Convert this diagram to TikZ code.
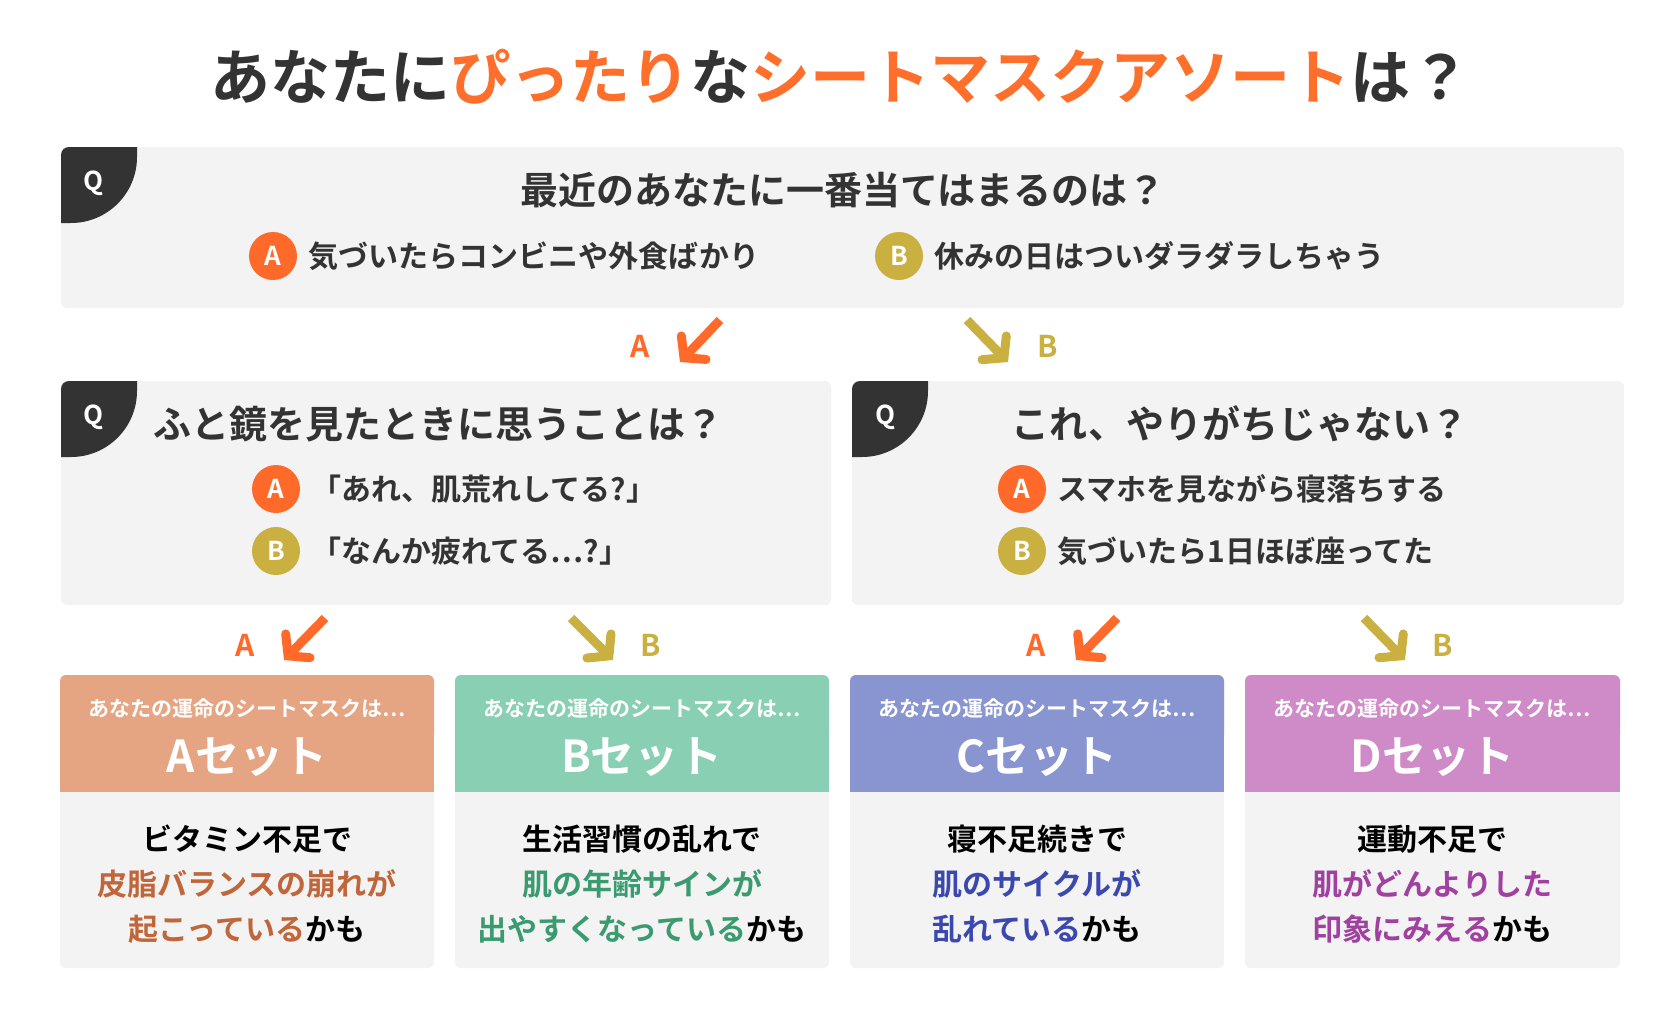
\documentclass[tikz,border=0pt]{standalone}
\usepackage{fontspec}
\setmainfont{Noto Sans CJK JP Bold}
\usetikzlibrary{arrows.meta}
\definecolor{ttl}{HTML}{FF6F2C}
\definecolor{oa}{HTML}{FF6A2A}
\definecolor{gb}{HTML}{C9B040}
\definecolor{bg}{HTML}{F3F3F3}
\definecolor{dk}{HTML}{333333}
\definecolor{ha}{HTML}{E5A482}\definecolor{ta}{HTML}{C0663A}
\definecolor{hb}{HTML}{88CFB3}\definecolor{tb}{HTML}{3A9A70}
\definecolor{hc}{HTML}{8895D0}\definecolor{tc}{HTML}{3A48B0}
\definecolor{hd}{HTML}{CF8AC8}\definecolor{td}{HTML}{A040A0}
\tikzset{
 panel/.style={fill=bg,rounded corners=6pt},
 qtext/.style={font=\fontsize{38}{42}\selectfont,text=dk},
 otext/.style={font=\fontsize{30}{34}\selectfont,text=dk,anchor=west},
 circA/.style={circle,fill=oa,minimum size=48pt,inner sep=0pt,text=white,font=\fontsize{26}{26}\selectfont},
 circB/.style={circle,fill=gb,minimum size=48pt,inner sep=0pt,text=white,font=\fontsize{26}{26}\selectfont},
 arrA/.style={draw=oa,line width=9pt,-{Straight Barb[length=14pt,width=34pt,line cap=round,line join=miter]}},
 arrB/.style={draw=gb,line width=9pt,-{Straight Barb[length=14pt,width=34pt,line cap=round,line join=miter]}},
 labA/.style={text=oa,font=\fontsize{30}{30}\selectfont},
 labB/.style={text=gb,font=\fontsize{30}{30}\selectfont},
 small/.style={text=white,font=\fontsize{21}{24}\selectfont},
 big/.style={text=white,font=\fontsize{44}{48}\selectfont},
 body/.style={align=center,font=\fontsize{30}{45}\selectfont,text=black},
}
\newcommand{\qbadge}[2]{\fill[dk] (#1,#2+8) arc[start angle=180,end angle=270,radius=8] -- (#1+76,#2) -- (#1+76,#2+10) arc[start angle=0,end angle=90,radius=66] -- (#1,#2+76) -- cycle;
 \node[text=white,font=\fontsize{26}{26}\selectfont] at (#1+33,#2+36) {Q};}
\newcommand{\result}[7]{%
 \fill[bg,rounded corners=6pt] (#1,675) rectangle (#2,968);
 \fill[#3,rounded corners=6pt] (#1,675) rectangle (#2,740);
 \fill[#3] (#1,720) rectangle (#2,792);
 \node[small] (s#7) at ({(#1+#2)/2},709) {あなたの運命のシートマスクは…};
 \node[big] (b#7) at ({(#1+#2)/2},757) {#4};
 \node[body] (t#7) at ({(#1+#2)/2},884) {#5};
}
\begin{document}
\begin{tikzpicture}[x=1pt,y=-1pt]
\useasboundingbox[fill=white] (0,0) rectangle (1676,1034);
\node[font=\fontsize{60}{62}\selectfont,text=dk] (title) at (840,77) {あなたに\textcolor{ttl}{ぴったり}な\textcolor{ttl}{シートマスクアソート}は？};
% Q1
\fill[panel] (61,147) rectangle (1624,308);
\qbadge{61}{147}
\node[qtext] (q1) at (843,190) {最近のあなたに一番当てはまるのは？};
\node[circA] (q1a) at (273,256) {A};
\node[otext] (q1at) at (305,256) {気づいたらコンビニや外食ばかり};
\node[circB] (q1b) at (899,256) {B};
\node[otext] (q1bt) at (931,256) {休みの日はついダラダラしちゃう};
% arrows 1
\coordinate (a1s) at (720,320); \coordinate (a1e) at (680,362);
\draw[arrA] (a1s) -- (a1e); \node[labA] (la1) at (640,346) {A};
\coordinate (b1s) at (967,320); \coordinate (b1e) at (1008,362);
\draw[arrB] (b1s) -- (b1e); \node[labB] (lb1) at (1048,346) {B};
% Q2
\fill[panel] (61,381) rectangle (831,605);
\qbadge{61}{381}
\node[qtext,anchor=west] (q2) at (150,424) {ふと鏡を見たときに思うことは？};
\node[circA] (q2a) at (276,489) {A};
\node[otext] (q2at) at (308,489) {「あれ、肌荒れしてる?」};
\node[circB] (q2b) at (276,551) {B};
\node[otext] (q2bt) at (308,551) {「なんか疲れてる…?」};
% Q3
\fill[panel] (852,381) rectangle (1624,605);
\qbadge{852}{381}
\node[qtext] (q3) at (1240,424) {これ、やりがちじゃない？};
\node[circA] (q3a) at (1022,489) {A};
\node[otext] (q3at) at (1054,489) {スマホを見ながら寝落ちする};
\node[circB] (q3b) at (1022,551) {B};
\node[otext] (q3bt) at (1054,551) {気づいたら1日ほぼ座ってた};
% arrows 2
\coordinate (a2s) at (325,618); \coordinate (a2e) at (284,660);
\draw[arrA] (a2s) -- (a2e); \node[labA] (la2) at (245,645) {A};
\coordinate (b2s) at (571,618); \coordinate (b2e) at (613,660);
\draw[arrB] (b2s) -- (b2e); \node[labB] (lb2) at (651,645) {B};
\coordinate (a3s) at (1117,618); \coordinate (a3e) at (1076,660);
\draw[arrA] (a3s) -- (a3e); \node[labA] (la3) at (1036,645) {A};
\coordinate (b3s) at (1364,618); \coordinate (b3e) at (1405,660);
\draw[arrB] (b3s) -- (b3e); \node[labB] (lb3) at (1443,645) {B};
% results
\result{60}{434}{ha}{Aセット}{ビタミン不足で\\\textcolor{ta}{皮脂バランスの崩れが}\\\textcolor{ta}{起こっている}かも}{}{A}
\result{455}{829}{hb}{Bセット}{生活習慣の乱れで\\\textcolor{tb}{肌の年齢サインが}\\\textcolor{tb}{出やすくなっている}かも}{}{B}
\result{850}{1224}{hc}{Cセット}{寝不足続きで\\\textcolor{tc}{肌のサイクルが}\\\textcolor{tc}{乱れている}かも}{}{C}
\result{1245}{1620}{hd}{Dセット}{運動不足で\\\textcolor{td}{肌がどんよりした}\\\textcolor{td}{印象にみえる}かも}{}{D}
\end{tikzpicture}
\end{document}
